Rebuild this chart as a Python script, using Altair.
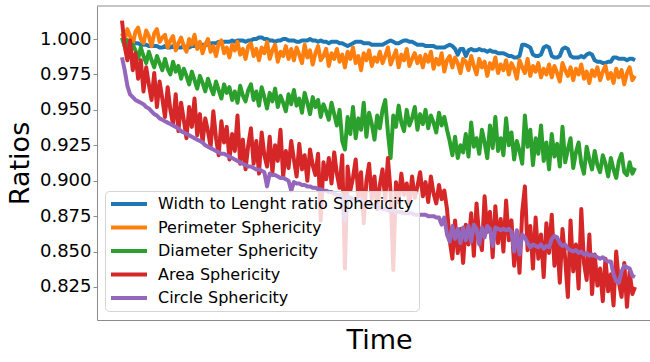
import altair as alt
import pandas as pd

# Series names (legend order) and their tab10 colours
names = [
    "Width to Lenght ratio Sphericity",
    "Perimeter Sphericity",
    "Diameter Sphericity",
    "Area Sphericity",
    "Circle Sphericity",
]
colors = ["#1f77b4", "#ff7f0e", "#2ca02c", "#d62728", "#9467bd"]

y_ticks = [0.825, 0.850, 0.875, 0.900, 0.925, 0.950, 0.975, 1.000]

width_length = [
    1.000, 0.999, 0.999, 0.998, 0.998, 0.997, 0.997, 0.996, 0.996, 0.996, 0.995, 0.995, 0.995, 0.995, 0.994, 0.994,
    0.995, 0.994, 0.994, 0.995, 0.994, 0.994, 0.994, 0.995, 0.994, 0.994, 0.995, 0.995, 0.995, 0.996, 0.996, 0.996,
    0.996, 0.997, 0.997, 0.997, 0.998, 0.997, 0.998, 0.998, 0.998, 0.999, 0.998, 0.999, 0.999, 0.999, 0.998, 0.999,
    0.999, 1.000, 1.000, 1.001, 1.001, 1.000, 1.000, 0.999, 0.999, 0.998, 0.999, 0.999, 1.000, 1.000, 0.999, 0.999,
    0.999, 0.998, 0.998, 0.999, 0.999, 0.999, 1.000, 0.999, 0.999, 0.998, 0.999, 0.998, 0.998, 0.997, 0.998, 0.998,
    0.998, 0.997, 0.997, 0.996, 0.995, 0.996, 0.997, 0.998, 0.998, 0.998, 0.997, 0.997, 0.997, 0.996, 0.996, 0.996,
    0.996, 0.996, 0.997, 0.998, 0.999, 0.998, 0.997, 0.997, 0.998, 0.999, 0.999, 0.998, 0.998, 0.997, 0.996, 0.996,
    0.996, 0.995, 0.995, 0.995, 0.995, 0.994, 0.994, 0.994, 0.994, 0.995, 0.996, 0.995, 0.993, 0.989, 0.993, 0.993,
    0.988, 0.992, 0.993, 0.992, 0.992, 0.993, 0.992, 0.992, 0.991, 0.992, 0.991, 0.991, 0.990, 0.990, 0.990, 0.989,
    0.988, 0.988, 0.987, 0.987, 0.988, 0.996, 0.996, 0.995, 0.994, 0.989, 0.988, 0.988, 0.989, 0.994, 0.995, 0.994,
    0.988, 0.987, 0.987, 0.988, 0.993, 0.994, 0.993, 0.988, 0.987, 0.987, 0.987, 0.988, 0.987, 0.989, 0.990, 0.989,
    0.985, 0.984, 0.984, 0.983, 0.983, 0.984, 0.984, 0.987, 0.987, 0.986, 0.986, 0.986, 0.985, 0.986, 0.986, 0.985,
]

perimeter = [
    1.004, 0.999, 1.007, 1.002, 0.996, 1.005, 1.008, 1.000, 0.997, 1.006, 1.002, 0.995, 1.004, 1.007, 0.998, 1.001,
    1.003, 0.994, 0.999, 1.002, 0.992, 0.997, 1.001, 0.995, 0.991, 1.000, 0.996, 1.003, 0.993, 0.998, 0.990, 0.996,
    1.000, 0.991, 0.995, 0.988, 0.997, 0.999, 0.990, 0.994, 0.987, 0.996, 0.992, 0.998, 0.989, 0.993, 0.986, 0.995,
    0.997, 0.988, 0.993, 0.985, 0.994, 0.990, 0.998, 0.986, 0.992, 0.996, 0.984, 0.991, 0.988, 0.995, 0.986, 0.993,
    0.985, 0.994, 0.989, 0.983, 0.996, 0.987, 0.992, 0.982, 0.990, 0.995, 0.985, 0.988, 0.993, 0.981, 0.990, 0.986,
    0.993, 0.984, 0.989, 0.980, 0.991, 0.986, 0.994, 0.983, 0.988, 0.978, 0.990, 0.985, 0.992, 0.981, 0.987, 0.984,
    0.991, 0.983, 0.988, 0.994, 0.982, 0.987, 0.992, 0.980, 0.989, 0.985, 0.993, 0.981, 0.986, 0.990, 0.983, 0.988,
    0.980, 0.989, 0.984, 0.991, 0.979, 0.986, 0.982, 0.990, 0.977, 0.985, 0.988, 0.980, 0.987, 0.983, 0.976, 0.986,
    0.984, 0.978, 0.988, 0.981, 0.975, 0.986, 0.980, 0.984, 0.974, 0.983, 0.979, 0.987, 0.976, 0.982, 0.978, 0.985,
    0.975, 0.983, 0.979, 0.972, 0.985, 0.980, 0.976, 0.986, 0.974, 0.981, 0.977, 0.983, 0.973, 0.979, 0.975, 0.982,
    0.973, 0.981, 0.976, 0.970, 0.983, 0.978, 0.974, 0.980, 0.971, 0.979, 0.975, 0.982, 0.972, 0.977, 0.969, 0.978,
    0.974, 0.980, 0.971, 0.977, 0.981, 0.972, 0.976, 0.969, 0.979, 0.973, 0.978, 0.968, 0.976, 0.980, 0.971, 0.974,
]

diameter = [
    1.001, 0.995, 0.999, 0.990, 0.996, 0.992, 0.986, 0.994, 0.988, 0.983, 0.991, 0.985, 0.980, 0.988, 0.983, 0.978,
    0.986, 0.979, 0.975, 0.984, 0.977, 0.981, 0.972, 0.979, 0.974, 0.968, 0.977, 0.971, 0.965, 0.974, 0.969, 0.963,
    0.972, 0.966, 0.961, 0.970, 0.964, 0.958, 0.968, 0.962, 0.966, 0.957, 0.963, 0.955, 0.967, 0.960, 0.956, 0.964,
    0.968, 0.957, 0.963, 0.953, 0.966, 0.959, 0.951, 0.962, 0.956, 0.965, 0.952, 0.960, 0.955, 0.949, 0.961, 0.954,
    0.964, 0.953, 0.958, 0.948, 0.962, 0.955, 0.947, 0.959, 0.952, 0.957, 0.945, 0.954, 0.949, 0.943, 0.955, 0.947,
    0.939, 0.950, 0.928, 0.922, 0.945, 0.933, 0.952, 0.930, 0.944, 0.936, 0.955, 0.931, 0.948, 0.940, 0.929, 0.946,
    0.937, 0.950, 0.957, 0.934, 0.916, 0.946, 0.938, 0.953, 0.941, 0.935, 0.950, 0.939, 0.944, 0.952, 0.936, 0.947,
    0.940, 0.950, 0.937, 0.946, 0.941, 0.934, 0.948, 0.939, 0.945, 0.936, 0.928, 0.918, 0.931, 0.916, 0.925, 0.920,
    0.933, 0.917, 0.941, 0.924, 0.930, 0.919, 0.936, 0.927, 0.916, 0.939, 0.923, 0.945, 0.921, 0.930, 0.918, 0.944,
    0.925, 0.934, 0.915, 0.928, 0.921, 0.912, 0.946, 0.924, 0.936, 0.911, 0.930, 0.919, 0.939, 0.914, 0.927, 0.908,
    0.933, 0.917, 0.926, 0.910, 0.938, 0.913, 0.922, 0.930, 0.909, 0.920, 0.927, 0.912, 0.905, 0.924, 0.915, 0.908,
    0.921, 0.911, 0.906, 0.918, 0.912, 0.903, 0.916, 0.908, 0.902, 0.914, 0.919, 0.906, 0.904, 0.913, 0.905, 0.909,
]

area = [
    1.013, 0.995, 0.985, 0.999, 0.978, 0.990, 0.972, 0.985, 0.963, 0.980, 0.968, 0.957, 0.976, 0.952, 0.970, 0.958,
    0.945, 0.966, 0.950, 0.940, 0.961, 0.935, 0.955, 0.943, 0.930, 0.952, 0.938, 0.958, 0.932, 0.947, 0.927, 0.944,
    0.935, 0.924, 0.949, 0.930, 0.918, 0.942, 0.927, 0.938, 0.915, 0.933, 0.921, 0.946, 0.912, 0.929, 0.908, 0.925,
    0.937, 0.912, 0.928, 0.905, 0.934, 0.918, 0.910, 0.931, 0.906, 0.925, 0.914, 0.936, 0.903, 0.921, 0.909, 0.928,
    0.915, 0.903, 0.926, 0.908, 0.918, 0.900, 0.922, 0.911, 0.904, 0.919, 0.872, 0.913, 0.901, 0.916, 0.898, 0.920,
    0.905, 0.895, 0.918, 0.838, 0.910, 0.893, 0.902, 0.915, 0.889, 0.906, 0.870, 0.900, 0.912, 0.887, 0.903, 0.880,
    0.897, 0.908, 0.886, 0.916, 0.892, 0.837, 0.899, 0.885, 0.905, 0.890, 0.898, 0.884, 0.903, 0.888, 0.896, 0.906,
    0.889, 0.899, 0.885, 0.903, 0.891, 0.884, 0.897, 0.887, 0.893, 0.880, 0.858, 0.845, 0.872, 0.849, 0.866, 0.842,
    0.869, 0.855, 0.877, 0.847, 0.884, 0.860, 0.851, 0.889, 0.864, 0.878, 0.846, 0.882, 0.856, 0.873, 0.850, 0.886,
    0.858, 0.872, 0.840, 0.864, 0.835, 0.878, 0.896, 0.851, 0.868, 0.838, 0.874, 0.845, 0.862, 0.832, 0.870, 0.849,
    0.876, 0.840, 0.859, 0.828, 0.866, 0.845, 0.818, 0.872, 0.836, 0.855, 0.824, 0.880, 0.842, 0.830, 0.862, 0.820,
    0.848, 0.826, 0.838, 0.815, 0.845, 0.822, 0.834, 0.812, 0.850, 0.828, 0.818, 0.842, 0.811, 0.836, 0.820, 0.825,
]

circle = [
    0.987, 0.978, 0.967, 0.961, 0.959, 0.957, 0.956, 0.955, 0.954, 0.952, 0.951, 0.949, 0.947, 0.946, 0.944, 0.943,
    0.942, 0.941, 0.940, 0.939, 0.938, 0.937, 0.935, 0.934, 0.933, 0.932, 0.931, 0.930, 0.929, 0.928, 0.927, 0.925,
    0.924, 0.923, 0.922, 0.921, 0.920, 0.919, 0.919, 0.918, 0.917, 0.916, 0.915, 0.914, 0.913, 0.912, 0.911, 0.910,
    0.910, 0.909, 0.908, 0.908, 0.907, 0.906, 0.896, 0.905, 0.904, 0.904, 0.903, 0.902, 0.902, 0.901, 0.900, 0.893,
    0.899, 0.898, 0.898, 0.897, 0.897, 0.896, 0.896, 0.895, 0.895, 0.894, 0.894, 0.893, 0.893, 0.892, 0.892, 0.891,
    0.890, 0.890, 0.889, 0.872, 0.889, 0.888, 0.887, 0.887, 0.886, 0.886, 0.885, 0.884, 0.884, 0.883, 0.882, 0.882,
    0.881, 0.880, 0.880, 0.879, 0.879, 0.879, 0.878, 0.878, 0.878, 0.877, 0.877, 0.877, 0.877, 0.876, 0.876, 0.876,
    0.876, 0.876, 0.875, 0.875, 0.875, 0.874, 0.874, 0.869, 0.874, 0.862, 0.857, 0.868, 0.859, 0.866, 0.856, 0.867,
    0.858, 0.868, 0.857, 0.869, 0.866, 0.855, 0.867, 0.860, 0.868, 0.866, 0.854, 0.867, 0.866, 0.865, 0.866, 0.865,
    0.866, 0.864, 0.850, 0.865, 0.848, 0.862, 0.860, 0.856, 0.853, 0.855, 0.854, 0.853, 0.855, 0.852, 0.854, 0.853,
    0.859, 0.861, 0.860, 0.856, 0.854, 0.855, 0.852, 0.851, 0.850, 0.851, 0.849, 0.850, 0.848, 0.849, 0.847, 0.848,
    0.847, 0.846, 0.845, 0.846, 0.844, 0.843, 0.843, 0.834, 0.829, 0.828, 0.836, 0.840, 0.839, 0.838, 0.833, 0.832,
]

series = [width_length, perimeter, diameter, area, circle]

# Long-form table: one row per (step, series), in plotting order
rows = []
for name, vals in zip(names, series):
    for i, v in enumerate(vals):
        rows.append({"step": i, "ratio": v, "series": name})
df = pd.DataFrame(rows)

FONT = "DejaVu Sans"
SPINE = "#8c8c8c"
W, H = 553, 314

lines = alt.Chart(df).mark_line(strokeWidth=4, strokeJoin="round").encode(
    x=alt.X(
        "step:Q",
        scale=alt.Scale(domain=[-9.31, 196.58], nice=False, zero=False),
        axis=alt.Axis(
            title="Time", labels=False, ticks=False, grid=False,
            domainColor=SPINE, domainWidth=1,
            titleFont=FONT, titleFontSize=27, titleFontWeight="normal",
            titleColor="black", titleX=282, titleY=7,
        ),
    ),
    y=alt.Y(
        "ratio:Q",
        scale=alt.Scale(domain=[0.8017, 1.0233], nice=False, zero=False),
        axis=alt.Axis(
            values=y_ticks, format=".3f", title="Ratios", grid=False,
            domainColor=SPINE, domainWidth=1, tickColor=SPINE, tickSize=4,
            labelFont=FONT, labelFontSize=18, labelColor="black", labelPadding=2,
            titleFont=FONT, titleFontSize=27, titleFontWeight="normal",
            titleColor="black", titlePadding=5,
        ),
    ),
    color=alt.Color(
        "series:N",
        sort=names,
        scale=alt.Scale(domain=names, range=colors),
        legend=alt.Legend(
            title=None, orient="none", legendX=8, legendY=185,
            symbolType="M-4.5,0L4.5,0", symbolSize=64, symbolStrokeWidth=4,
            symbolOffset=11, labelOffset=21,
            labelFont=FONT, labelFontSize=16, labelColor="black", labelLimit=500,
            fillColor="rgba(255,255,255,0.8)", strokeColor="#d4d4d4",
            cornerRadius=4, padding=5, rowPadding=7.5,
        ),
    ),
)

# Top spine of the axes frame
top_spine = alt.Chart(pd.DataFrame({"k": [0]})).mark_rule(
    color=SPINE, strokeWidth=1
).encode(x=alt.value(0), x2=alt.value(W), y=alt.value(0))

chart = alt.layer(lines, top_spine).properties(
    width=W,
    height=H,
    autosize=alt.AutoSizeParams(type="none"),
    padding={"left": 97, "top": 6, "right": 0, "bottom": 42},
).configure_view(strokeWidth=0)

chart.save("out.html", embed_options={"renderer": "svg", "actions": False})
